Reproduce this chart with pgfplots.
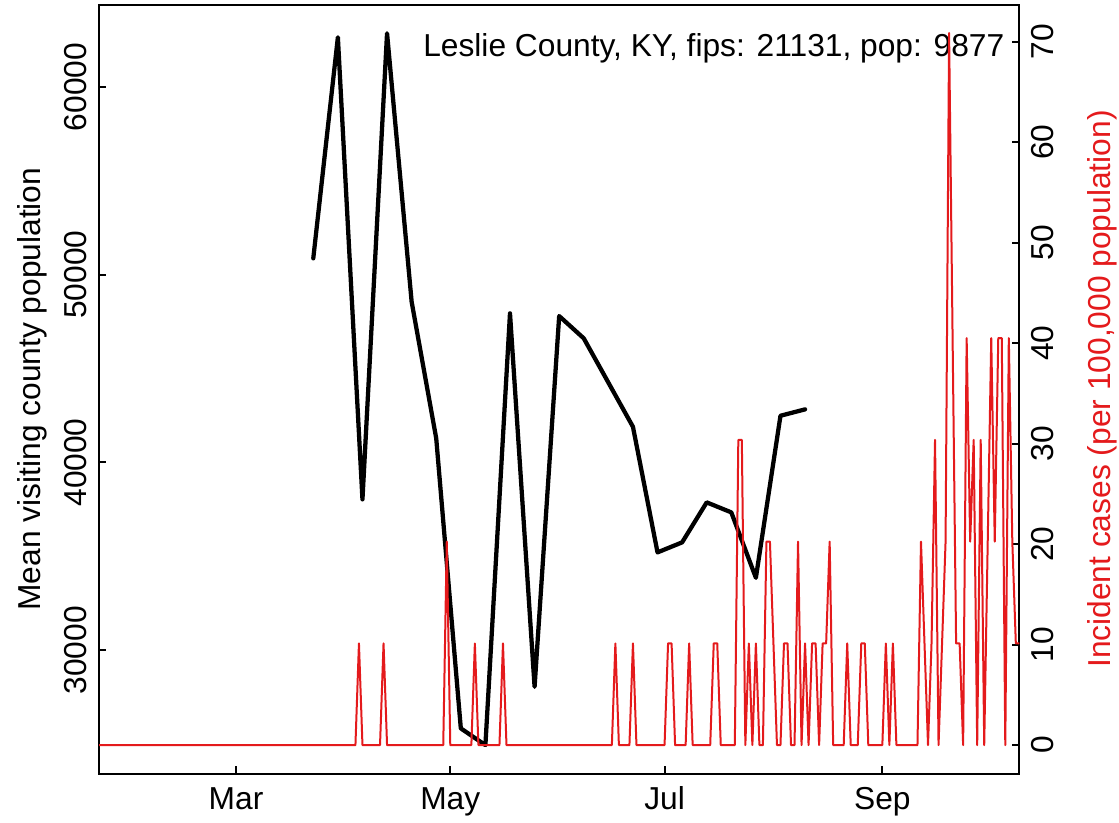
\documentclass[border=0pt]{standalone}
\usepackage{fontspec}
\setmainfont{Liberation Sans}
\usepackage{pgfplots}
\pgfplotsset{compat=1.18}
\definecolor{cred}{HTML}{E41A1C}
\newcommand\fsz{\fontsize{23.8}{28}\selectfont}

\begin{document}
\begin{tikzpicture}
\path[use as bounding box] (-74.25pt,-36.4pt) rectangle (764.95pt,580.15pt);
\pgfplotsset{every axis/.append style={
  width=690.2pt, height=576.75pt, scale only axis,
  at={(0,0)}, anchor=south west,
  xmin=22, xmax=284,
  tick align=inside, major tick length=5.6pt,
  axis line style={line width=1.5pt},
  tick style={line width=1.5pt, black},
  tick label style={font=\fsz},
  label style={font=\fsz},
  scaled ticks=false}}

% black: weekly mean visiting population (day of year 2020)
\begin{axis}[
  ymin=23426, ymax=64395,
  xtick={61,122,183,245}, xticklabels={Mar,May,Jul,Sep},
  xtick pos=left, ytick pos=left,
  ytick={30000,40000,50000,60000}, yticklabels={30000,40000,50000,60000},
  xticklabel style={anchor=base, yshift=-26.6pt},
  yticklabel style={xshift=-9.2pt, rotate=90, anchor=base},
  ylabel={Mean visiting county population},
  ylabel style={at={(rel axis cs:-0.0641,0.5)}, anchor=base},
]
\addplot[black, line width=3.2pt, line join=round, line cap=round] table {
d v
83 50874
90 62648
97 38034
104 62861
111 48562
118 41284
125 25834
132 24944
139 47944
146 28050
153 47800
160 46612
167 44257
174 41902
181 35210
188 35743
195 37874
202 37341
209 33857
216 42488
223 42829
};
\node[anchor=base east, inner sep=0pt, font=\fsz] at (rel axis cs:0.984,0.932)
  {Leslie County, KY, fips: 21131, pop: 9877};
\end{axis}

% red: daily incident cases per 100,000
\begin{axis}[
  axis x line=none, axis y line*=right,
  ymin=-2.835, ymax=73.70,
  ytick={0,10,20,30,40,50,60,70}, yticklabels={0,10,20,30,40,50,60,70},
  yticklabel style={xshift=25.3pt, rotate=90, anchor=base},
  ylabel={Incident cases (per 100,000 population)},
  ylabel style={at={(rel axis cs:1.0986,0.5)}, anchor=base, text=cred},
]
\addplot[cred, line width=1.5pt, line join=round] table {
d v
22 0
95 0
96 10.12
97 0
102 0
103 10.12
104 0
120 0
121 20.25
122 0
128 0
129 10.12
130 0
136 0
137 10.12
138 0
168 0
169 10.12
170 0
173 0
174 10.12
175 0
183 0
184 10.12
185 10.12
186 0
189 0
190 10.12
191 0
196 0
197 10.12
198 10.12
199 0
203 0
204 30.37
205 30.37
206 0
207 10.12
208 0
209 10.12
210 0
211 0
212 20.25
213 20.25
214 10.12
215 0
216 0
217 10.12
218 10.12
219 0
220 0
221 20.25
222 0
223 10.12
224 0
225 10.12
226 10.12
227 0
228 10.12
229 10.12
230 20.25
231 0
234 0
235 10.12
236 0
238 0
239 10.12
240 10.12
241 0
245 0
246 10.12
247 0
248 10.12
249 0
255 0
256 20.25
257 10.12
258 0
259 10.12
260 30.37
261 0
262 10.12
263 20.25
264 70.87
265 40.50
266 10.12
267 10.12
268 0
269 40.50
270 20.25
271 30.37
272 0
273 30.37
274 0
275 20.25
276 40.50
277 20.25
278 40.50
279 40.50
280 0
281 40.50
282 20.25
283 10.12
284 10.12
};
\end{axis}
\end{tikzpicture}
\end{document}
